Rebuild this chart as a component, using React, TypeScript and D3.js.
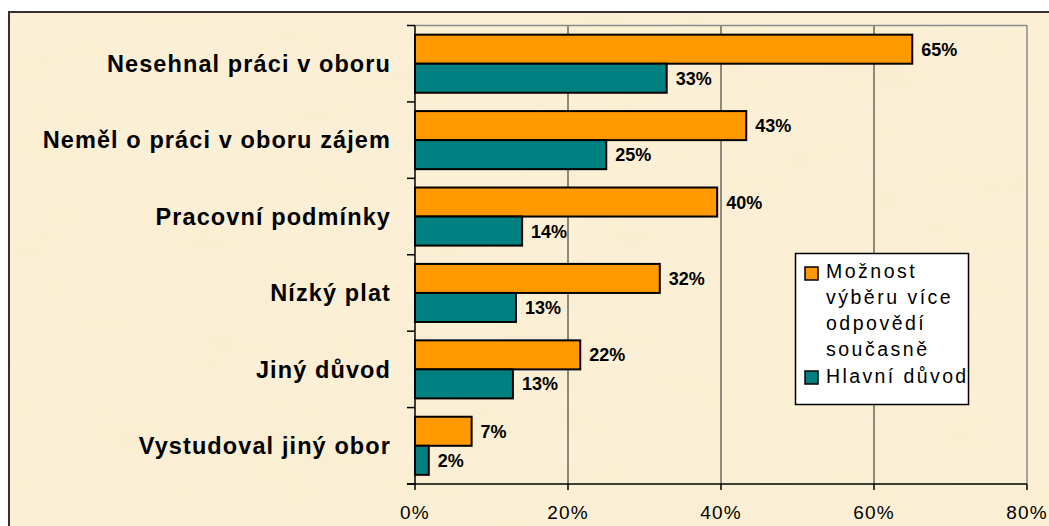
import React from "react";
import * as d3 from "d3";

const categories = [
  "Nesehnal práci v oboru",
  "Neměl o práci v oboru zájem",
  "Pracovní podmínky",
  "Nízký plat",
  "Jiný důvod",
  "Vystudoval jiný obor",
];
const multiValues = [0.65, 0.433, 0.395, 0.32, 0.216, 0.074];
const mainValues = [0.329, 0.25, 0.14, 0.132, 0.128, 0.018];
const xTicks = [0, 0.2, 0.4, 0.6, 0.8];
const legendMultiLines = ["Možnost", "výběru více", "odpovědí", "současně"];
const legendMain = "Hlavní důvod";

const W = 1049;
const H = 526;
const plot = { left: 415, right: 1027, top: 25.5, bottom: 484 };
const ORANGE = "#FF9900";
const TEAL = "#008080";
const FONT = "Liberation Sans, Arial, sans-serif";

export default function App() {
  const x = d3.scaleLinear().domain([0, 0.8]).range([plot.left, plot.right]);
  const y = d3
    .scaleBand<string>()
    .domain(categories)
    .range([plot.top, plot.bottom])
    .paddingInner(0.24)
    .paddingOuter(0.12);
  const sub = d3
    .scaleBand<string>()
    .domain(["multi", "main"])
    .range([0, y.bandwidth()]);
  const fmt = d3.format(".0%");
  const step = y.step();
  const bandStart = (i: number) => plot.top + i * step;

  return (
    <svg
      width={W}
      height={H}
      style={{ position: "absolute", left: 0, top: 0 }}
      fontFamily={FONT}
    >
      <defs>
        <filter id="tex" x="0" y="0" width="100%" height="100%">
          <feTurbulence
            type="fractalNoise"
            baseFrequency="0.012 0.03"
            numOctaves={3}
            seed={7}
          />
          <feColorMatrix
            type="matrix"
            values="0 0 0 0 0.93  0 0 0 0 0.84  0 0 0 0 0.6  0.9 0 0 0 -0.3"
          />
        </filter>
      </defs>
      <rect x={0} y={0} width={W} height={H} fill="#ffffff" />
      <rect x={9} y={12} width={W} height={H} fill="#FBF0D6" />
      <rect x={9} y={12} width={W} height={H} filter="url(#tex)" />
      <rect
        x={9}
        y={12}
        width={W}
        height={H}
        fill="none"
        stroke="#333"
        strokeWidth={2}
      />

      {/* gridlines */}
      {xTicks.slice(1, -1).map((t) => (
        <line
          key={"g" + t}
          x1={x(t)}
          x2={x(t)}
          y1={plot.top}
          y2={plot.bottom}
          stroke="#222"
          strokeWidth={1}
        />
      ))}
      {/* top and right plot border (gray) */}
      <line
        x1={plot.left}
        x2={plot.right}
        y1={plot.top}
        y2={plot.top}
        stroke="#8a8a8a"
        strokeWidth={1.5}
      />
      <line
        x1={plot.right}
        x2={plot.right}
        y1={plot.top}
        y2={plot.bottom}
        stroke="#8a8a8a"
        strokeWidth={1.5}
      />

      {/* bars */}
      {categories.map((c, i) => {
        const y0 = y(c)!;
        return (
          <g key={c}>
            <rect
              x={x(0)}
              y={y0 + sub("multi")!}
              width={x(multiValues[i]) - x(0)}
              height={sub.bandwidth()}
              fill={ORANGE}
              stroke="#000"
              strokeWidth={2}
            />
            <rect
              x={x(0)}
              y={y0 + sub("main")!}
              width={x(mainValues[i]) - x(0)}
              height={sub.bandwidth()}
              fill={TEAL}
              stroke="#000"
              strokeWidth={2}
            />
            <text
              x={x(multiValues[i]) + 9}
              y={y0 + sub("multi")! + sub.bandwidth() / 2}
              dy="0.36em"
              fontWeight="bold"
              fontSize={18}
              fill="#000"
            >
              {fmt(multiValues[i])}
            </text>
            <text
              x={x(mainValues[i]) + 9}
              y={y0 + sub("main")! + sub.bandwidth() / 2}
              dy="0.36em"
              fontWeight="bold"
              fontSize={18}
              fill="#000"
            >
              {fmt(mainValues[i])}
            </text>
            <text
              x={391}
              y={bandStart(i) + step / 2}
              dy="0.35em"
              textAnchor="end"
              fontWeight="bold"
              fontSize={23.5}
              letterSpacing={1.1}
              fill="#000"
            >
              {c}
            </text>
          </g>
        );
      })}

      {/* axes */}
      <line
        x1={plot.left}
        x2={plot.left}
        y1={plot.top}
        y2={plot.bottom}
        stroke="#000"
        strokeWidth={1.5}
      />
      {d3.range(categories.length + 1).map((i) => (
        <line
          key={"yt" + i}
          x1={plot.left - 8}
          x2={plot.left}
          y1={bandStart(i)}
          y2={bandStart(i)}
          stroke="#000"
          strokeWidth={1.5}
        />
      ))}
      <line
        x1={plot.left - 8}
        x2={plot.right}
        y1={plot.bottom}
        y2={plot.bottom}
        stroke="#000"
        strokeWidth={1.5}
      />
      {xTicks.map((t) => (
        <g key={"xt" + t}>
          <line
            x1={x(t)}
            x2={x(t)}
            y1={plot.bottom}
            y2={plot.bottom + 6}
            stroke="#000"
            strokeWidth={1.5}
          />
          <text
            x={x(t)}
            y={519}
            textAnchor="middle"
            fontSize={19}
            letterSpacing={1.2}
            fill="#000"
          >
            {fmt(t)}
          </text>
        </g>
      ))}

      {/* legend */}
      <rect
        x={795.5}
        y={253.5}
        width={173}
        height={151}
        fill="#fff"
        stroke="#000"
        strokeWidth={1.5}
      />
      <rect
        x={805}
        y={267}
        width={13}
        height={13}
        fill={ORANGE}
        stroke="#000"
        strokeWidth={1.5}
      />
      {legendMultiLines.map((l, i) => (
        <text
          key={l}
          x={826}
          y={278 + i * 26}
          fontSize={19.5}
          letterSpacing={2.5}
          fill="#000"
        >
          {l}
        </text>
      ))}
      <rect
        x={805}
        y={371}
        width={13}
        height={13}
        fill={TEAL}
        stroke="#000"
        strokeWidth={1.5}
      />
      <text
        x={826}
        y={383}
        fontSize={19.5}
        letterSpacing={2.4}
        fill="#000"
      >
        {legendMain}
      </text>
    </svg>
  );
}
